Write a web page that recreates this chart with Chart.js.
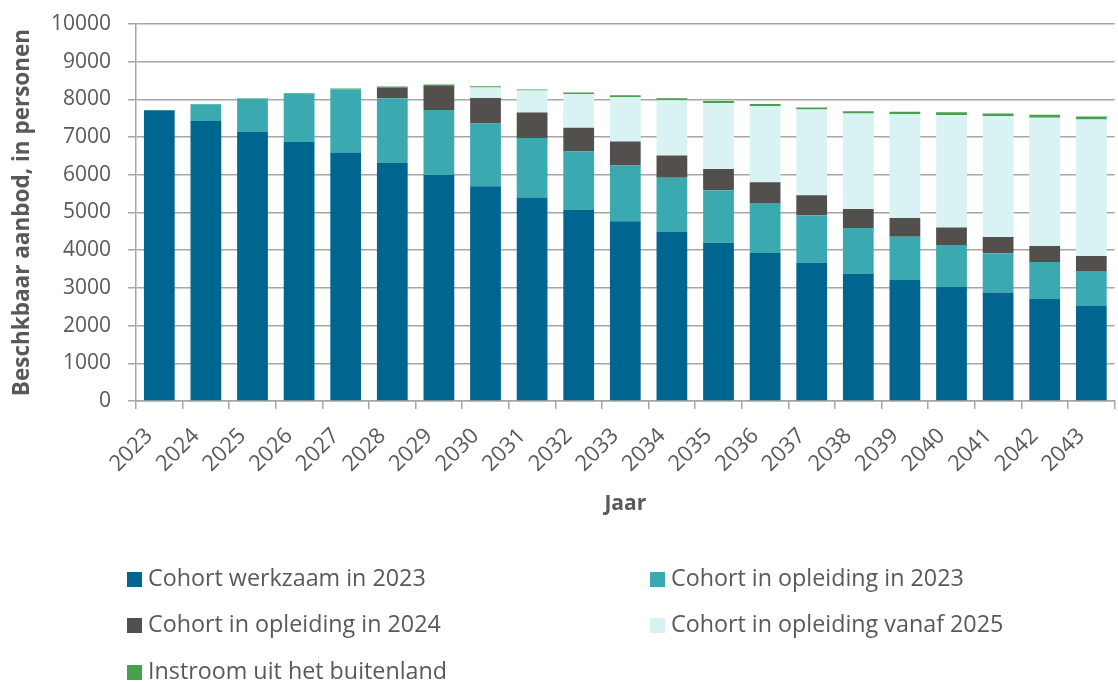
<!DOCTYPE html>
<html>
<head>
<meta charset="utf-8">
<script src="https://cdn.jsdelivr.net/npm/chart.js@4/dist/chart.umd.min.js"></script>
<style>
  html, body { margin: 0; padding: 0; background: #fff; overflow: hidden; }
  #wrap { position: relative; width: 1118px; height: 682px; overflow: hidden; }
  #chart { position: absolute; left: 0; top: 0; }
  .leg { position: absolute; font-family: "Open Sans", sans-serif; font-size: 23.3px; color: #595959; white-space: nowrap; line-height: 26px; }
  .leg i { display: inline-block; width: 15px; height: 15px; margin-right: 6px; vertical-align: -1px; }
</style>
</head>
<body>
<div id="wrap">
  <canvas id="chart" width="1124" height="682"></canvas>
  <div id="legend"></div>
</div>
<script>
const years = ['2023','2024','2025','2026','2027','2028','2029','2030','2031','2032','2033',
  '2034','2035','2036','2037','2038','2039','2040','2041','2042','2043'];

const werkzaam2023 = [7710, 7430, 7135, 6870, 6590, 6315, 5995, 5695, 5395, 5065, 4765,
  4485, 4200, 3925, 3660, 3370, 3210, 3025, 2875, 2705, 2530];
const opleiding2023 = [0, 440, 885, 1285, 1680, 1715, 1725, 1665, 1580, 1555, 1485,
  1440, 1390, 1325, 1265, 1220, 1150, 1115, 1045, 980, 915];
const opleiding2024 = [0, 0, 0, 0, 0, 285, 635, 680, 675, 630, 630,
  590, 565, 555, 530, 505, 495, 460, 430, 425, 400];
const opleidingVanaf2025 = [0, 0, 0, 0, 0, 0, 0, 275, 585, 890, 1185,
  1465, 1750, 2010, 2275, 2530, 2750, 2985, 3200, 3405, 3620];
const buitenland = [0, 5, 10, 15, 20, 30, 38, 35, 30, 45, 45,
  53, 53, 60, 55, 62, 70, 72, 78, 80, 80];

const yTicks = [0, 1000, 2000, 3000, 4000, 5000, 6000, 7000, 8000, 9000, 10000];

const series = [
  { label: 'Cohort werkzaam in 2023', data: werkzaam2023, color: '#00668f' },
  { label: 'Cohort in opleiding in 2023', data: opleiding2023, color: '#3aaab0' },
  { label: 'Cohort in opleiding in 2024', data: opleiding2024, color: '#524f4d' },
  { label: 'Cohort in opleiding vanaf 2025', data: opleidingVanaf2025, color: '#d9f2f3' },
  { label: 'Instroom uit het buitenland', data: buitenland, color: '#46a04e' }
];

const textColor = '#595959';
const gridColor = '#a6a6a6';
const font = 'Open Sans';

new Chart(document.getElementById('chart'), {
  type: 'bar',
  data: {
    labels: years,
    datasets: series.map(s => ({
      label: s.label,
      data: s.data,
      backgroundColor: s.color,
      borderWidth: 0,
      barPercentage: 0.66,
      categoryPercentage: 1
    }))
  },
  options: {
    responsive: false,
    animation: false,
    devicePixelRatio: 1,
    layout: { padding: { top: 24, right: 1, bottom: 161, left: 0 } },
    plugins: { legend: { display: false }, tooltip: { enabled: false } },
    scales: {
      x: {
        stacked: true,
        grid: { drawOnChartArea: false, drawTicks: true, tickLength: 8, color: gridColor, lineWidth: 1.5, offset: true },
        border: { color: gridColor, width: 1.5 },
        ticks: { color: textColor, font: { family: font, size: 22 }, minRotation: 45, maxRotation: 45, padding: 14, labelOffset: -10 },
        title: { display: true, text: 'Jaar', color: textColor, font: { family: font, size: 21, weight: 'bold' }, padding: { top: 4, bottom: 4 } },
        afterFit: scale => { scale.height = 120; }
      },
      y: {
        stacked: true,
        min: 0,
        max: 10000,
        afterBuildTicks: scale => { scale.ticks = yTicks.map(v => ({ value: v })); },
        grid: { color: gridColor, lineWidth: 1.5, tickLength: 8 },
        border: { color: gridColor, width: 1.5 },
        ticks: { color: textColor, font: { family: font, size: 21 }, padding: 17, callback: v => String(v) },
        title: { display: true, text: 'Beschkbaar aanbod, in personen', color: textColor, font: { family: font, size: 22.5, weight: 'bold' }, padding: { top: 9, bottom: 4 } },
        afterFit: scale => { scale.width = 136; scale.paddingTop = 0; scale.paddingBottom = 0; }
      }
    }
  }
});

// legend in two columns like the original
const legendPos = [[127, 564], [650, 564], [127, 610], [650, 610], [127, 657]];
const legendEl = document.getElementById('legend');
series.forEach((s, i) => {
  const d = document.createElement('div');
  d.className = 'leg';
  d.style.left = legendPos[i][0] + 'px';
  d.style.top = legendPos[i][1] + 'px';
  d.innerHTML = `<i style="background:${s.color}"></i>${s.label}`;
  legendEl.appendChild(d);
});
</script>
</body>
</html>
